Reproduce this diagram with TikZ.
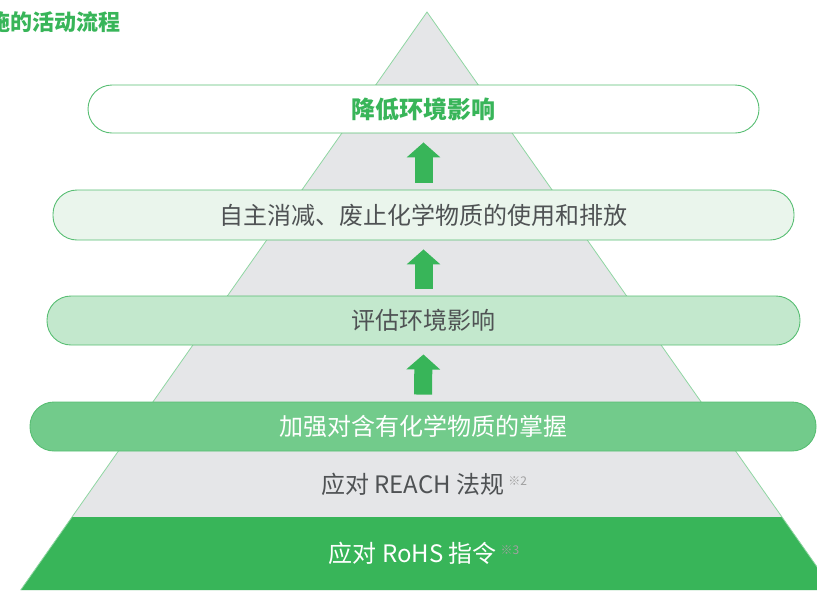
\documentclass[tikz,border=0pt]{standalone}
\usepackage{fontspec}
\setmainfont{Noto Sans CJK SC}
\usetikzlibrary{arrows.meta}

\definecolor{leafgreen}{HTML}{38B559}
\definecolor{midgreen}{HTML}{72CB8B}
\definecolor{palegreen}{HTML}{C3E8CD}
\definecolor{mintgreen}{HTML}{EAF5EC}
\definecolor{edgegreen}{HTML}{58BE73}
\definecolor{pyrgray}{HTML}{E5E6E8}
\definecolor{pyredge}{HTML}{8FD6A2}
\definecolor{textgray}{HTML}{4F5254}
\definecolor{notegray}{HTML}{A0A0A0}

\tikzstyle{stage} = [draw=edgegreen,line width=0.9pt,rounded corners=24pt,minimum height=49pt,inner sep=0pt,font=\fontsize{24}{24}\selectfont]
\tikzstyle{layer} = [inner sep=0pt,font=\fontsize{24}{24}\selectfont]
\tikzstyle{uparrow} = [leafgreen,line width=18pt,-{Triangle[width=33pt,length=15pt]}]

\newcommand{\note}[1]{\,{\fontsize{12}{12}\selectfont\color{notegray}\raisebox{8pt}{#1}}}

\begin{document}
\begin{tikzpicture}[x=1pt,y=-1pt]
		\useasboundingbox (0,0) rectangle (817,590);
		\clip (0,0) rectangle (817,590);
		% pyramid and its two base layers
		\fill[pyrgray] (427,12) -- (20.7,590) -- (833.3,590) -- cycle;
		\fill[leafgreen] (72,517) -- (20.7,590) -- (833.3,590) -- (782,517) -- cycle;
		\draw[pyredge,line width=0.8pt] (20.7,590) -- (427,12) -- (833.3,590);
		\node[layer,text=textgray] (reach) at (424,484) {应对 REACH 法规\note{※2}};
		\node[layer,text=white] (rohs) at (424,553) {应对 RoHS 指令\note{※3}};
		% stages
		\node[stage,fill=white,text=leafgreen,minimum width=671pt,minimum height=48pt] (s1) at (423.5,109) {\bfseries 降低环境影响};
		\node[stage,fill=mintgreen,text=textgray,minimum width=741pt,minimum height=50pt] (s2) at (423.5,215) {自主消减、废止化学物质的使用和排放};
		\node[stage,fill=palegreen,text=textgray,minimum width=753pt] (s3) at (423.5,320.5) {评估环境影响};
		\node[stage,fill=midgreen,text=white,minimum width=786pt] (s4) at (423,426.5) {加强对含有化学物质的掌握};
		\draw[uparrow,shorten <=7pt,shorten >=9pt] (s2.north) -- (s1.south);
		\draw[uparrow,shorten <=7pt,shorten >=9pt] (s3.north) -- (s2.south);
		\draw[uparrow,shorten <=7pt,shorten >=9pt] (s4.north) -- (s3.south);
		% clipped heading
		\node[anchor=east,inner sep=0pt,text=leafgreen,font=\fontsize{22}{22}\selectfont\bfseries] (head) at (121,22) {措施的活动流程};
		\end{tikzpicture}
\end{document}
